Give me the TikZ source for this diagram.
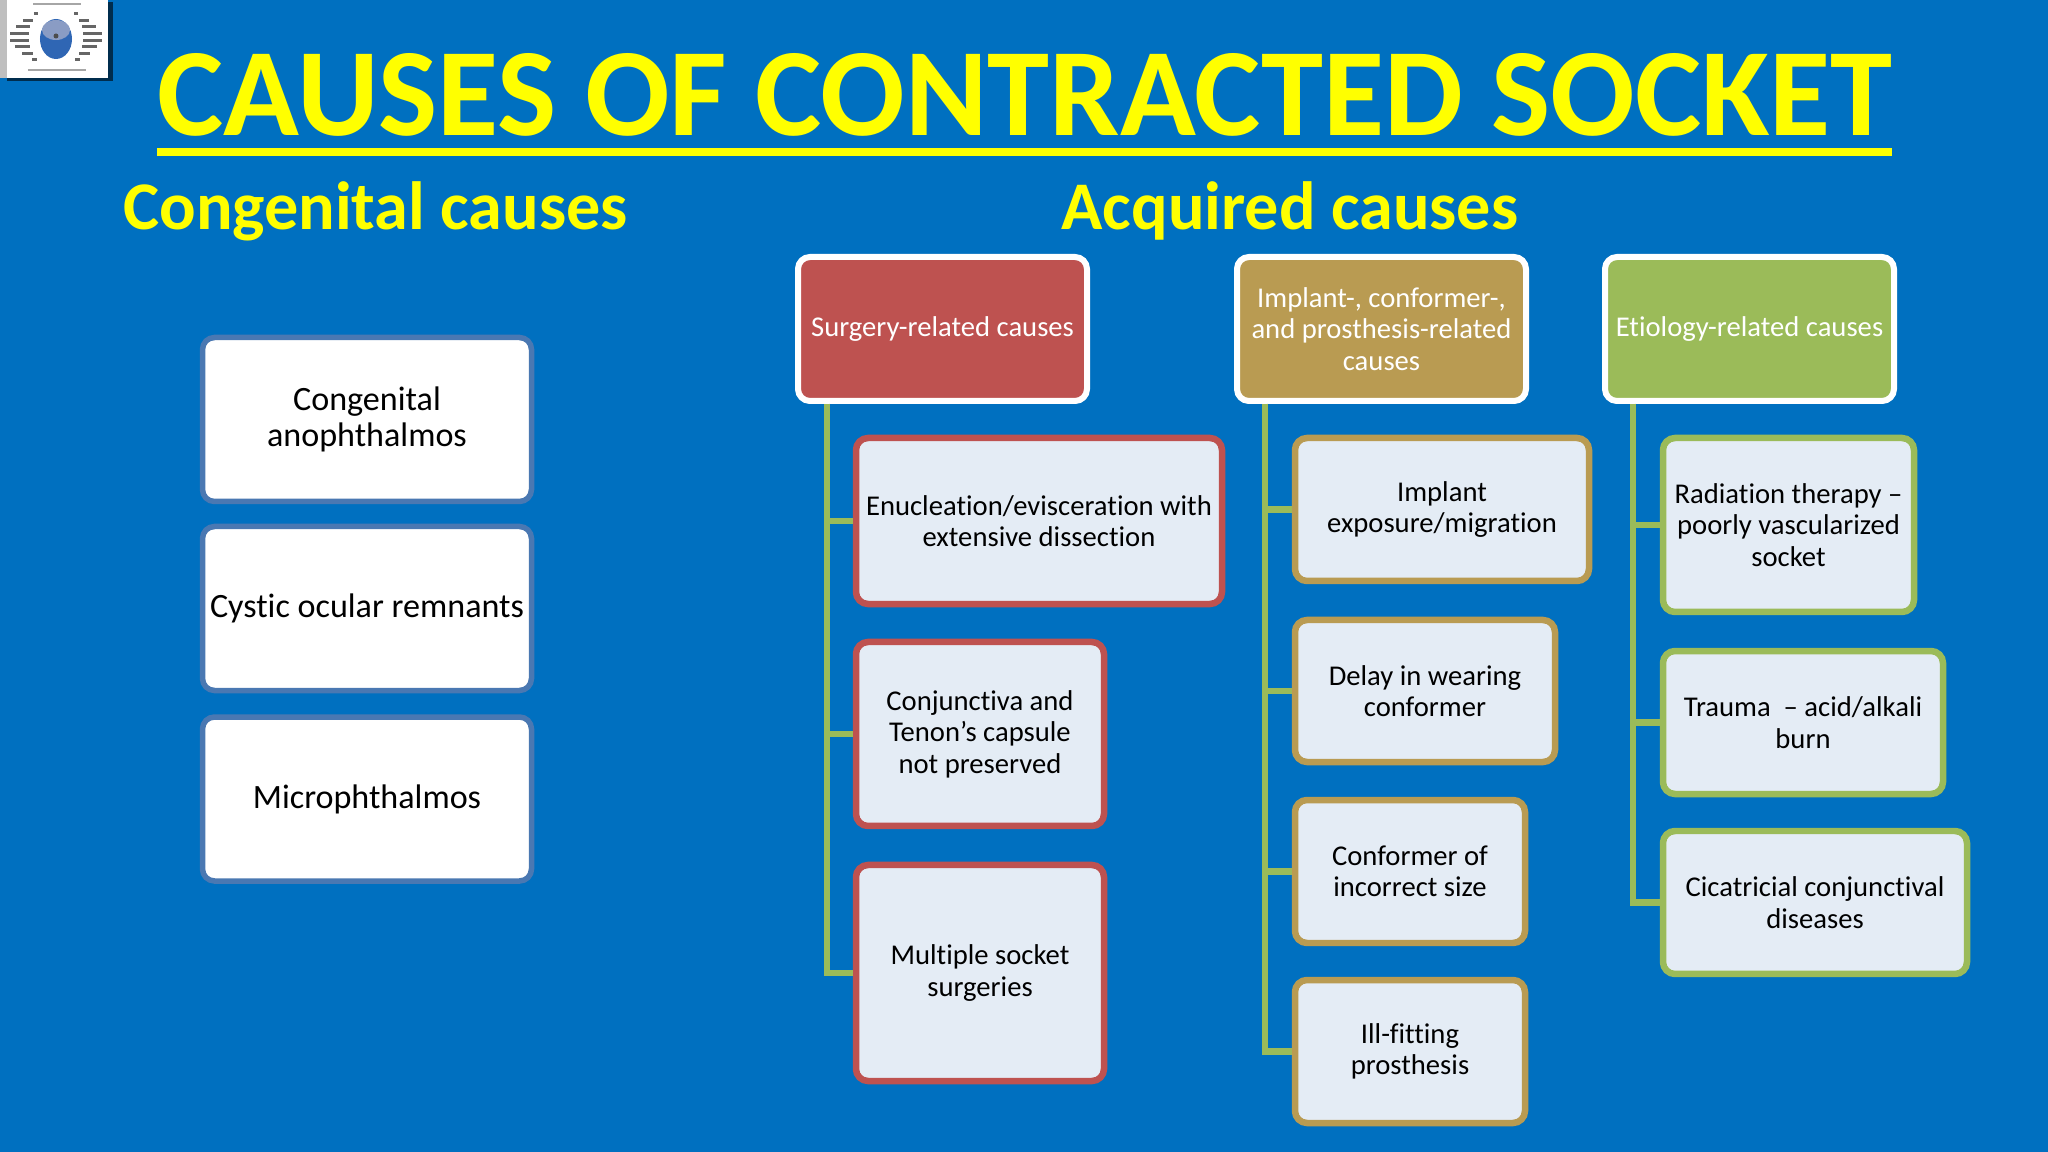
\documentclass[tikz,border=0pt]{standalone}
\usepackage{fontspec}
\setmainfont[Ligatures=NoCommon]{Carlito}
\usepackage{xcolor}
\usetikzlibrary{calc}
\definecolor{slideblue}{HTML}{0070C0}
\definecolor{titleyellow}{HTML}{FFFF00}
\definecolor{surgred}{HTML}{BE5250}
\definecolor{implgold}{HTML}{B99B52}
\definecolor{etiogreen}{HTML}{9BBB59}
\definecolor{childfill}{HTML}{E4ECF5}
\definecolor{leftedge}{HTML}{4A78B2}
\definecolor{eyeblue}{HTML}{2F66B4}
\definecolor{eyetop}{HTML}{8A9CC4}
\tikzset{
  basebox/.style={rounded corners=1.2mm,align=center,inner sep=0pt,text=black,
    font=\fontsize{8.15}{8.95}\selectfont},
  leftbox/.style={basebox,draw=leftedge,fill=white,line width=0.55mm,minimum width=3.29cm,minimum height=1.64cm,
    font=\fontsize{9.7}{10.4}\selectfont},
  headbox/.style={basebox,draw=white,fill=#1,line width=0.6mm,text=white,minimum width=2.89cm,minimum height=1.44cm},
  childbox/.style={basebox,draw=#1,fill=childfill,line width=0.65mm},
  branch/.style={etiogreen,line width=0.65mm},
  heading/.style={titleyellow,font=\fontsize{19.4}{19.4}\selectfont\bfseries,inner sep=0pt}
}
\begin{document}
\begin{tikzpicture}
\useasboundingbox (0,0) rectangle (20.48,-11.52);
\fill[slideblue] (0,0) rectangle (20.48,-11.52);
% logo
\fill[black!60!slideblue] (0.07,-0.02) rectangle (1.13,-0.81);
\fill[black!25] (0,0) rectangle (0.08,-0.78);
\fill[white] (0.07,0) rectangle (1.08,-0.78);
\fill[eyeblue] (0.56,-0.39) ellipse (0.16 and 0.2);
\fill[eyetop] (0.56,-0.3) ellipse (0.14 and 0.1);
\fill[black!70] (0.56,-0.36) circle (0.025);
\foreach \yy/\xa/\xb in {0.14/0.34/0.38,0.21/0.23/0.33,0.27/0.16/0.3,0.34/0.1/0.29,0.41/0.1/0.29,0.47/0.15/0.3,0.54/0.22/0.33,0.6/0.32/0.37}{
  \draw[black!60,line width=0.3mm] (\xa,-\yy)--(\xb,-\yy);
  \draw[black!60,line width=0.3mm] (1.12-\xa,-\yy)--(1.12-\xb,-\yy);
}
\draw[black!35,line width=0.25mm] (0.33,-0.04)--(0.81,-0.04);
\draw[black!35,line width=0.25mm] (0.28,-0.7)--(0.86,-0.7);
% titles
\node[heading,font=\fontsize{35.6}{36}\selectfont\bfseries] (title) at (10.25,-0.95) {CAUSES OF CONTRACTED SOCKET};
\coordinate (ulstart) at (1.57,-1.52);
\coordinate (ulend) at (18.92,-1.52);
\draw[titleyellow,line width=0.8mm] (ulstart)--(ulend);
\node[heading] (conghead) at (3.755,-2.11) {Congenital causes};
\node[heading] (acqhead) at (12.9,-2.11) {Acquired causes};
% congenital column
\node[leftbox] (anoph) at (3.67,-4.195) {Congenital\\anophthalmos};
\node[leftbox] (cystic) at (3.67,-6.085) {Cystic ocular remnants};
\node[leftbox] (micro) at (3.67,-7.99) {Microphthalmos};
% column headers
\node[headbox=surgred] (surg) at (9.425,-3.29) {Surgery-related causes};
\node[headbox=implgold] (impl) at (13.815,-3.29) {Implant-, conformer-,\\and prosthesis-related\\causes};
\node[headbox=etiogreen] (etio) at (17.495,-3.29) {Etiology-related causes};
% surgery column
\node[childbox=surgred,minimum width=3.66cm,minimum height=1.66cm] (enuc) at (10.39,-5.21) {Enucleation/evisceration with\\extensive dissection};
\node[childbox=surgred,minimum width=2.48cm,minimum height=1.84cm] (conj) at (9.8,-7.34) {Conjunctiva and\\Tenon’s capsule\\not preserved};
\node[childbox=surgred,minimum width=2.48cm,minimum height=2.16cm] (mult) at (9.8,-9.73) {Multiple socket\\surgeries};
% implant column
\node[childbox=implgold,minimum width=2.94cm,minimum height=1.43cm] (expo) at (14.42,-5.095) {Implant\\exposure/migration};
\node[childbox=implgold,minimum width=2.6cm,minimum height=1.42cm] (delay) at (14.25,-6.91) {Delay in wearing\\conformer};
\node[childbox=implgold,minimum width=2.3cm,minimum height=1.43cm] (size) at (14.1,-8.715) {Conformer of\\incorrect size};
\node[childbox=implgold,minimum width=2.3cm,minimum height=1.43cm] (illfit) at (14.1,-10.515) {Ill-fitting\\prosthesis};
% etiology column
\node[childbox=etiogreen,minimum width=2.51cm,minimum height=1.74cm] (radi) at (17.885,-5.25) {Radiation therapy –\\poorly vascularized\\socket};
\node[childbox=etiogreen,minimum width=2.8cm,minimum height=1.43cm] (trauma) at (18.03,-7.225) {Trauma\ \ – acid/alkali\\burn};
\node[childbox=etiogreen,minimum width=3.04cm,minimum height=1.43cm] (cicat) at (18.15,-9.025) {Cicatricial conjunctival\\diseases};
% connectors
\coordinate (surgroot) at (8.27,-4.04);
\coordinate (implroot) at (12.65,-4.04);
\coordinate (etioroot) at (16.33,-4.04);
\foreach \kid in {enuc,conj,mult}
  \draw[branch] (surgroot) |- (\kid.west);
\foreach \kid in {expo,delay,size,illfit}
  \draw[branch] (implroot) |- (\kid.west);
\foreach \kid in {radi,trauma,cicat}
  \draw[branch] (etioroot) |- (\kid.west);
\end{tikzpicture}
\end{document}
